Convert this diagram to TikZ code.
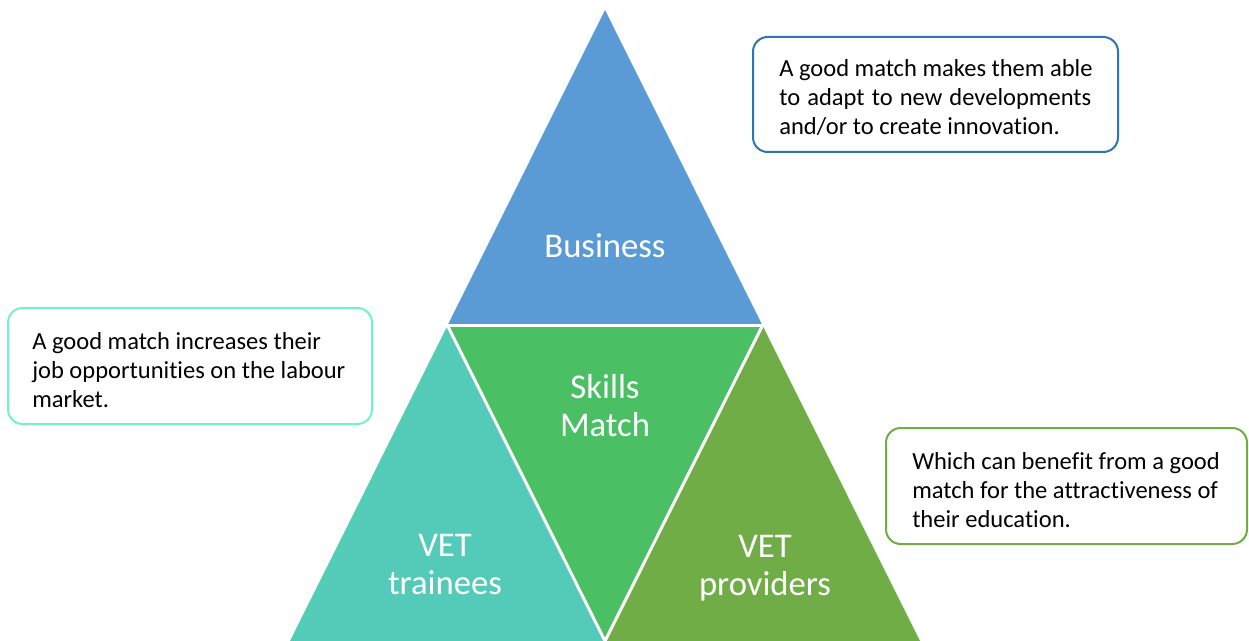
\documentclass[tikz,border=0pt]{standalone}
\usepackage{fontspec}
\setmainfont{Carlito}[Ligatures=NoCommon]
\usetikzlibrary{positioning, calc}
\usepackage{xcolor}

\definecolor{bizblue}{HTML}{5B9BD5}
\definecolor{matchgreen}{HTML}{4ABF63}
\definecolor{traineeteal}{HTML}{54CAB8}
\definecolor{providergreen}{HTML}{70AD47}
\definecolor{bizline}{HTML}{2E75B6}
\definecolor{traineeline}{HTML}{72F2CC}

\begin{document}
\begin{tikzpicture}[x=0.75pt, y=-0.75pt,
    gap/.style={draw=white, line width=2.25pt, line cap=butt},
    biglabel/.style={text=white, align=center, font=\fontsize{26}{28.5}\selectfont},
    notebox/.style={draw=#1, line width=1.5pt, rounded corners=11pt, fill=white},
    notetext/.style={align=left, anchor=west, inner xsep=0pt, font=\fontsize{18.4}{21.75}\selectfont}]
      \useasboundingbox (0, 0) rectangle (1249, 641);

      % corners of the pyramid
      \coordinate (apex) at (605, 10);
      \coordinate (midL) at (447.5, 325.5);
      \coordinate (midR) at (762.5, 325.5);
      \coordinate (baseL) at (290, 641);
      \coordinate (baseM) at (605, 641);
      \coordinate (baseR) at (920, 641);

      \fill[bizblue] (apex) -- (midR) -- (midL) -- cycle;
      \fill[matchgreen] (midL) -- (midR) -- (baseM) -- cycle;
      \fill[traineeteal] (midL) -- (baseM) -- (baseL) -- cycle;
      \fill[providergreen] (midR) -- (baseR) -- (baseM) -- cycle;
      % white gaps between the parts
      \draw[gap] ($(midL)!-0.02!(midR)$) -- ($(midR)!-0.02!(midL)$);
      \draw[gap] (midL) -- ($(baseM)!-0.01!(midL)$);
      \draw[gap] (midR) -- ($(baseM)!-0.01!(midR)$);

      \node[biglabel] (business) at (605, 246) {Business};
      \node[biglabel] (skills) at (605, 406) {Skills\\Match};
      \node[biglabel] (trainees) at (445, 565) {VET\\trainees};
      \node[biglabel] (providers) at (765, 568) {VET\\providers};

      % note boxes
      \node[notebox=bizline, minimum width=273.75pt, minimum height=86.25pt] (bizbox) at (935.5, 94.5) {};
      \node[notetext] (biztext) at ([xshift=20.25pt, yshift=-2.6pt]bizbox.west)
        {A good match makes them able\\\makebox[234pt][s]{to adapt to new developments}\\and/or to create innovation.};

      \node[notebox=traineeline, minimum width=273pt, minimum height=87pt] (traineebox) at (190, 366) {};
      \node[notetext] (traineetext) at ([xshift=18.75pt, yshift=-3pt]traineebox.west)
        {A good match increases their\\job opportunities on the labour\\market.};

      \node[notebox=providergreen, minimum width=270.75pt, minimum height=87pt] (providerbox) at (1066.5, 486) {};
      \node[notetext] (providertext) at ([xshift=20.25pt, yshift=-3pt]providerbox.west)
        {Which can benefit from a good\\match for the attractiveness of\\their education.};
\end{tikzpicture}
\end{document}
